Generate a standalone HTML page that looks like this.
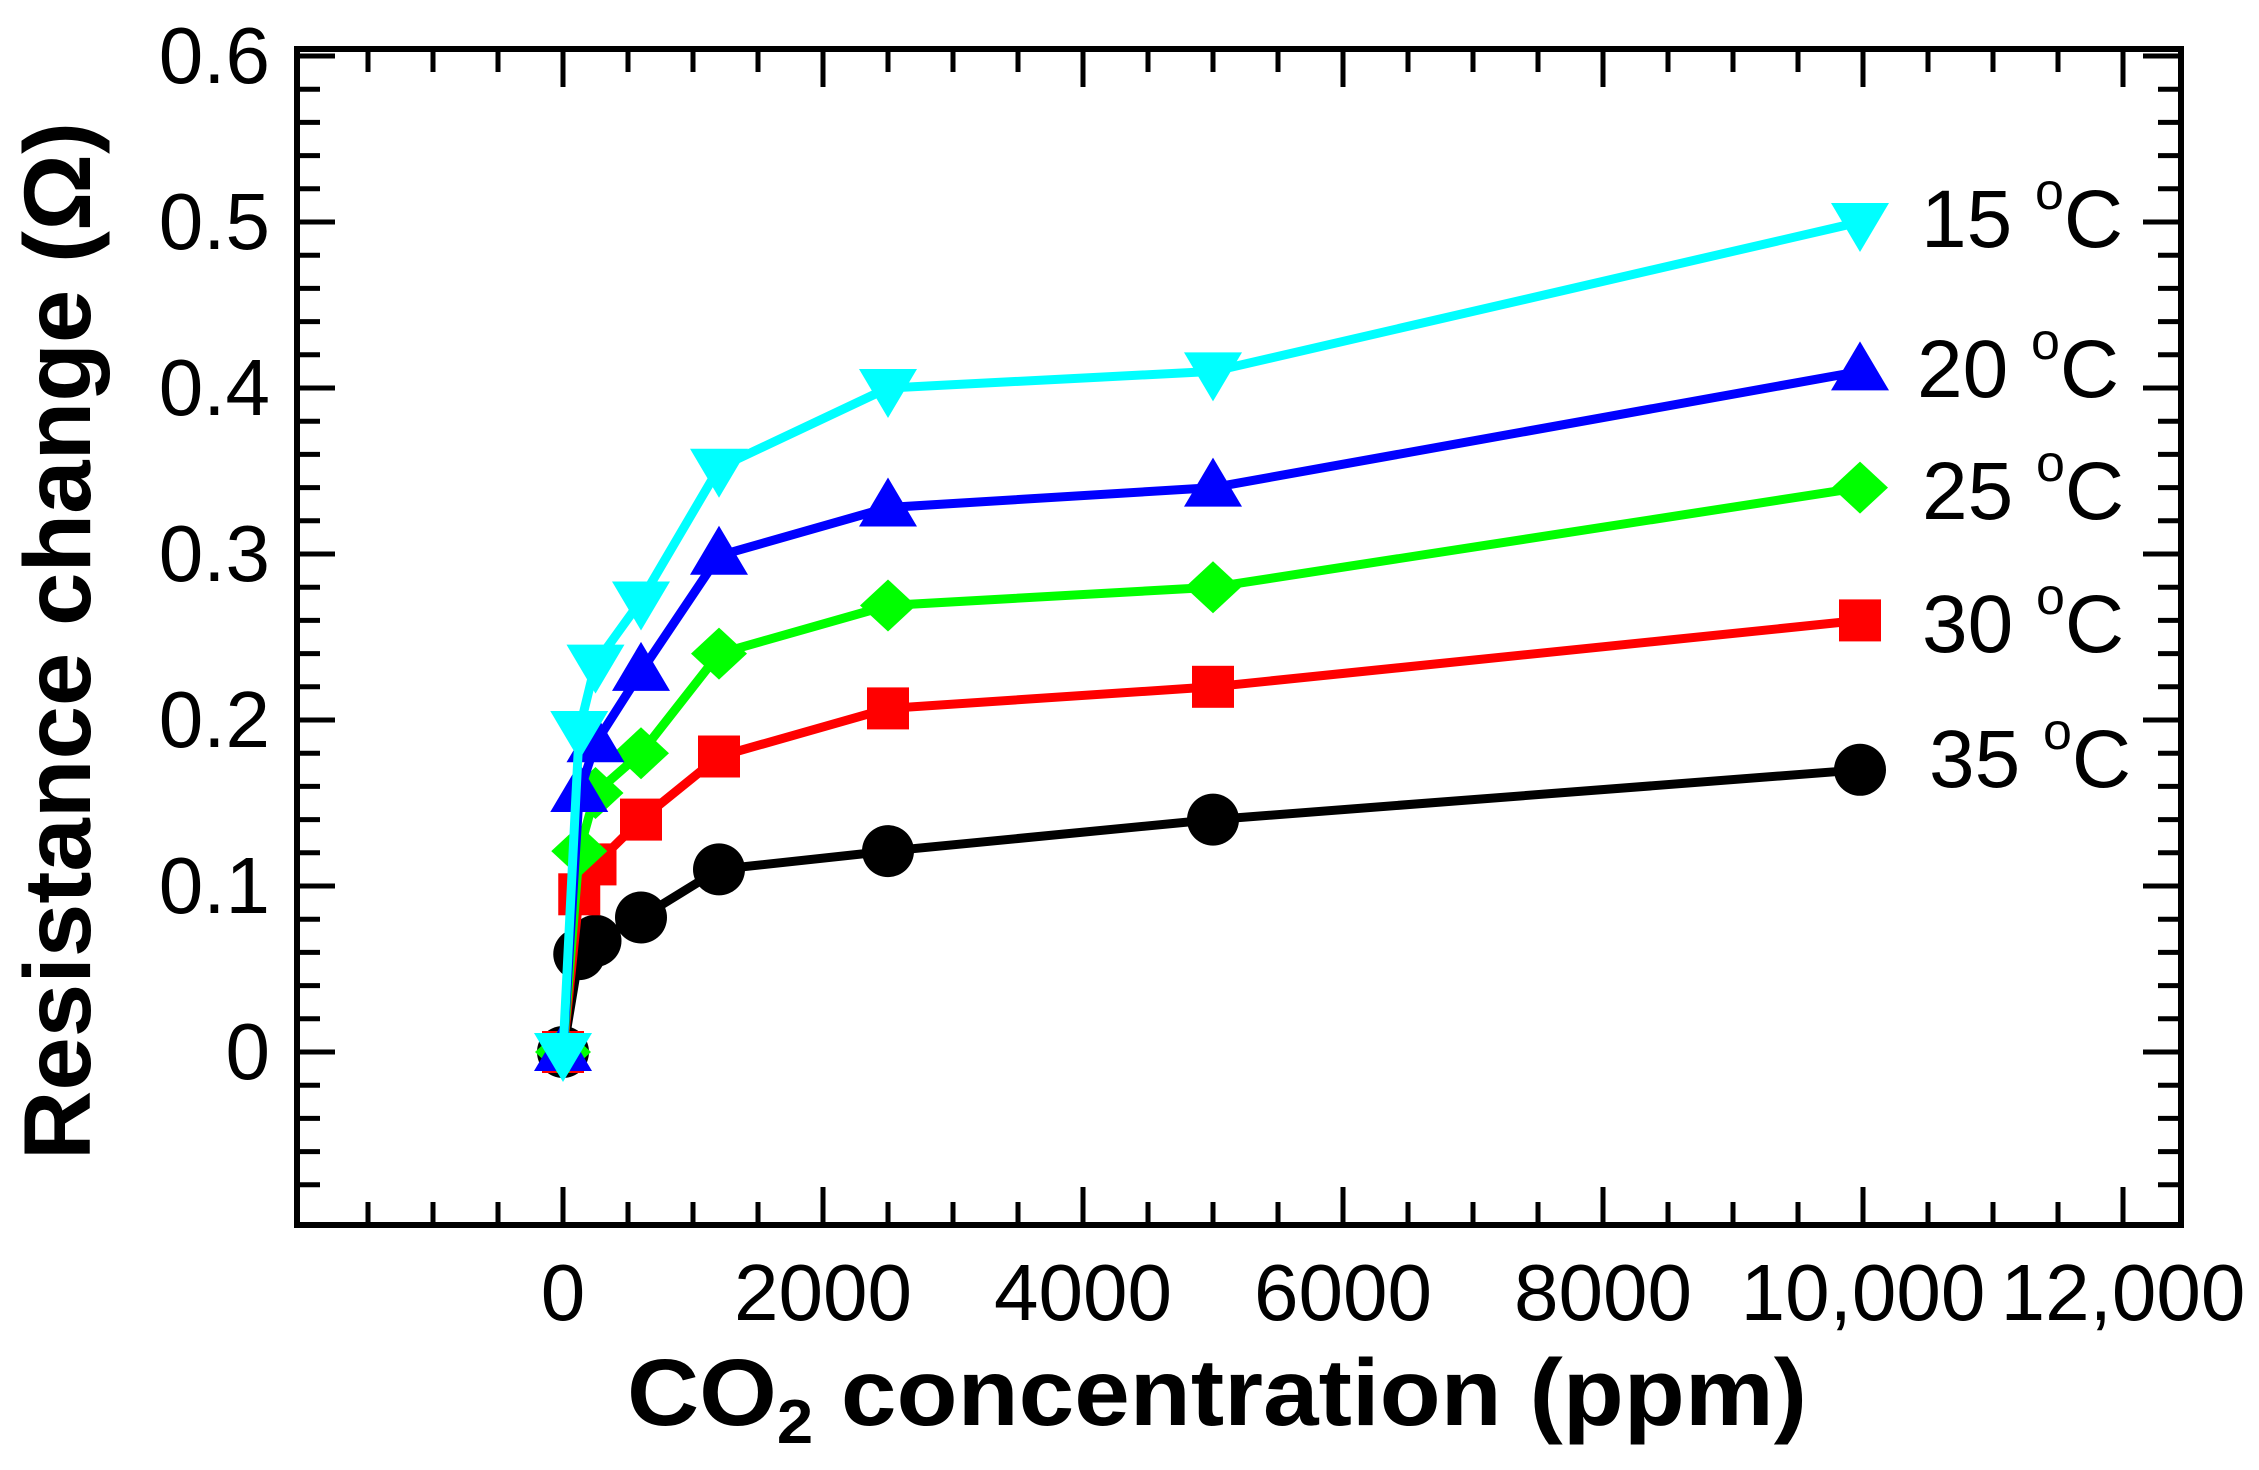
<!DOCTYPE html>
<html><head><meta charset="utf-8"><style>
html,body{margin:0;padding:0;background:#fff;}
svg{display:block;}
</style></head><body>
<svg width="2259" height="1470" viewBox="0 0 2259 1470" xmlns="http://www.w3.org/2000/svg" font-family="Liberation Sans, Arial, sans-serif">
<defs>
<marker id="mc" markerUnits="userSpaceOnUse" markerWidth="60" markerHeight="60" refX="30" refY="30" viewBox="0 0 60 60" overflow="visible"><circle cx="30" cy="30" r="26" fill="#000"/></marker>
<marker id="ms" markerUnits="userSpaceOnUse" markerWidth="60" markerHeight="60" refX="30" refY="30" viewBox="0 0 60 60" overflow="visible"><rect x="9" y="9" width="42" height="42" fill="#ff0000"/></marker>
<marker id="md" markerUnits="userSpaceOnUse" markerWidth="60" markerHeight="60" refX="30" refY="30" viewBox="0 0 60 60" overflow="visible"><polygon points="30,4 58,30 30,56 2,30" fill="#00ff00"/></marker>
<marker id="mu" markerUnits="userSpaceOnUse" markerWidth="60" markerHeight="60" refX="30" refY="30" viewBox="0 0 60 60" overflow="visible"><polygon points="30,0 59,49 1,49" fill="#0000ff"/></marker>
<marker id="mv" markerUnits="userSpaceOnUse" markerWidth="60" markerHeight="60" refX="30" refY="30" viewBox="0 0 60 60" overflow="visible"><polygon points="30,60 59,11 1,11" fill="#00ffff"/></marker>
</defs>
<rect width="2259" height="1470" fill="#fff"/>
<g stroke="#000" stroke-width="5" fill="none">
<path d="M368 52v20M433 52v20M498 52v20M563 52v35M628 52v20M693 52v20M758 52v20M823 52v35M888 52v20M953 52v20M1018 52v20M1083 52v35M1148 52v20M1213 52v20M1278 52v20M1343 52v35M1408 52v20M1473 52v20M1538 52v20M1603 52v35M1668 52v20M1733 52v20M1798 52v20M1863 52v35M1928 52v20M1993 52v20M2058 52v20M2123 52v35"/>
<path d="M368 1222v-20M433 1222v-20M498 1222v-20M563 1222v-35M628 1222v-20M693 1222v-20M758 1222v-20M823 1222v-35M888 1222v-20M953 1222v-20M1018 1222v-20M1083 1222v-35M1148 1222v-20M1213 1222v-20M1278 1222v-20M1343 1222v-35M1408 1222v-20M1473 1222v-20M1538 1222v-20M1603 1222v-35M1668 1222v-20M1733 1222v-20M1798 1222v-20M1863 1222v-35M1928 1222v-20M1993 1222v-20M2058 1222v-20M2123 1222v-35"/>
<path d="M300 1184.8h20M300 1151.6h20M300 1118.4h20M300 1085.2h20M300 1052h35M300 1018.8h20M300 985.6h20M300 952.4h20M300 919.2h20M300 886h35M300 852.8h20M300 819.6h20M300 786.4h20M300 753.2h20M300 720h35M300 686.8h20M300 653.6h20M300 620.4h20M300 587.2h20M300 554h35M300 520.8h20M300 487.6h20M300 454.4h20M300 421.2h20M300 388h35M300 354.8h20M300 321.6h20M300 288.4h20M300 255.2h20M300 222h35M300 188.8h20M300 155.6h20M300 122.4h20M300 89.2h20M300 56h35"/>
<path d="M2178 1184.8h-20M2178 1151.6h-20M2178 1118.4h-20M2178 1085.2h-20M2178 1052h-35M2178 1018.8h-20M2178 985.6h-20M2178 952.4h-20M2178 919.2h-20M2178 886h-35M2178 852.8h-20M2178 819.6h-20M2178 786.4h-20M2178 753.2h-20M2178 720h-35M2178 686.8h-20M2178 653.6h-20M2178 620.4h-20M2178 587.2h-20M2178 554h-35M2178 520.8h-20M2178 487.6h-20M2178 454.4h-20M2178 421.2h-20M2178 388h-35M2178 354.8h-20M2178 321.6h-20M2178 288.4h-20M2178 255.2h-20M2178 222h-35M2178 188.8h-20M2178 155.6h-20M2178 122.4h-20M2178 89.2h-20M2178 56h-35"/>
</g>
<rect x="297" y="49" width="1884" height="1176" fill="none" stroke="#000" stroke-width="6"/>
<g fill="none" stroke-width="9" stroke-linejoin="round">
<polyline stroke="#000" marker-start="url(#mc)" marker-mid="url(#mc)" marker-end="url(#mc)" points="563,1052 579.25,954.1 595.5,940.8 641,917.5 719,869.4 888,851.1 1213,819.6 1860,769.8"/>
<polyline stroke="#ff0000" marker-start="url(#ms)" marker-mid="url(#ms)" marker-end="url(#ms)" points="563,1052 579.25,894.3 595.5,864.4 641,819.6 719,756.5 888,708.4 1213,686.8 1860,620.4"/>
<polyline stroke="#00ff00" marker-start="url(#md)" marker-mid="url(#md)" marker-end="url(#md)" points="563,1052 579.25,851.1 595.5,793 641,753.2 719,653.6 888,605.5 1213,587.2 1860,487.6"/>
<polyline stroke="#0000ff" marker-start="url(#mu)" marker-mid="url(#mu)" marker-end="url(#mu)" points="563,1052 579.25,793 595.5,743.2 641,671.9 719,555.7 888,507.5 1213,487.6 1860,371.4"/>
<polyline stroke="#00ffff" marker-start="url(#mv)" marker-mid="url(#mv)" marker-end="url(#mv)" points="563,1052 579.25,730 595.5,663.6 641,600.5 719,467.7 888,388 1213,371.4 1860,222"/>
</g>
<g font-size="80" fill="#000" text-anchor="end">
<text x="270" y="83">0.6</text>
<text x="270" y="249">0.5</text>
<text x="270" y="415">0.4</text>
<text x="270" y="581">0.3</text>
<text x="270" y="747">0.2</text>
<text x="270" y="913">0.1</text>
<text x="270" y="1079">0</text>
</g>
<g font-size="80" fill="#000" text-anchor="middle">
<text x="563" y="1320">0</text>
<text x="823" y="1320">2000</text>
<text x="1083" y="1320">4000</text>
<text x="1343" y="1320">6000</text>
<text x="1603" y="1320">8000</text>
<text x="1863" y="1320">10,000</text>
<text x="2123" y="1320">12,000</text>
</g>
<text x="627" y="1425" font-size="95" font-weight="bold" textLength="1180" lengthAdjust="spacingAndGlyphs">CO<tspan font-size="62" dy="18">2</tspan><tspan dy="-18"> concentration (ppm)</tspan></text>
<text transform="translate(90,641) rotate(-90)" text-anchor="middle" font-size="95" font-weight="bold" textLength="1038" lengthAdjust="spacingAndGlyphs">Resistance change (Ω)</text>
<g font-size="82" fill="#000">
<text x="1921" y="247">15 <tspan font-size="52" dy="-38">o</tspan><tspan dy="38">C</tspan></text>
<text x="1917" y="397">20 <tspan font-size="52" dy="-38">o</tspan><tspan dy="38">C</tspan></text>
<text x="1922" y="519">25 <tspan font-size="52" dy="-38">o</tspan><tspan dy="38">C</tspan></text>
<text x="1922" y="652">30 <tspan font-size="52" dy="-38">o</tspan><tspan dy="38">C</tspan></text>
<text x="1929" y="787">35 <tspan font-size="52" dy="-38">o</tspan><tspan dy="38">C</tspan></text>
</g>
</svg>
</body></html>
